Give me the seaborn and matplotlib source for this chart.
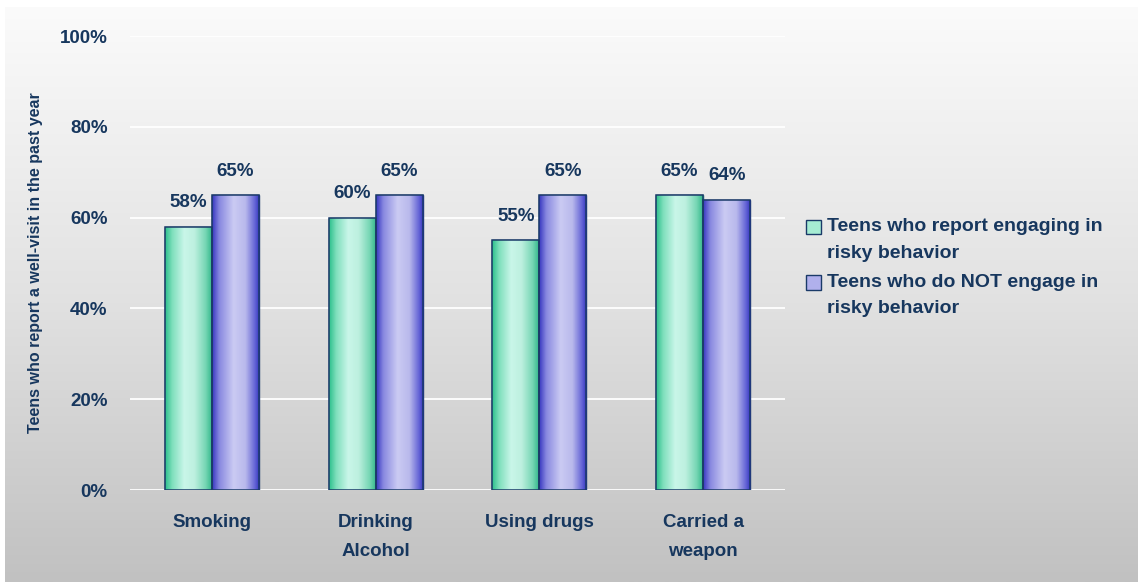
import numpy as np
import pandas as pd
import matplotlib
matplotlib.use("Agg")
import matplotlib.pyplot as plt
from matplotlib.colors import LinearSegmentedColormap
from matplotlib.patches import Rectangle
from matplotlib.legend_handler import HandlerPatch
import seaborn as sns

categories = ["Smoking", "Drinking\nAlcohol", "Using drugs", "Carried a\nweapon"]
risky = [58, 60, 55, 65]
not_risky = [65, 65, 65, 64]
series_names = ["Teens who report engaging in\nrisky behavior",
                "Teens who do NOT engage in\nrisky behavior"]
yticks = [0, 20, 40, 60, 80, 100]
ytick_labels = ["0%", "20%", "40%", "60%", "80%", "100%"]
ylabel = "Teens who report a well-visit in the past year"

TXT = "#17375e"
sns.set_theme(style="white")
plt.rcParams["font.family"] = ["Liberation Sans", "DejaVu Sans"]
plt.rcParams["font.weight"] = "bold"

df = pd.DataFrame({
    "cat": categories * 2,
    "val": risky + not_risky,
    "series": [series_names[0]] * 4 + [series_names[1]] * 4,
})

fig = plt.figure(figsize=(11.38, 5.82), dpi=100)
# background gradient
bg = fig.add_axes([0.004, 0, 0.996, 0.988], zorder=-10)
grad = np.linspace(0, 1, 256).reshape(-1, 1)
bgcm = LinearSegmentedColormap.from_list("bg", ["#fbfbfb", "#e2e2e2", "#c1c1c1"])
bg.imshow(grad, aspect="auto", cmap=bgcm, extent=[0, 1, 0, 1], origin="upper")
bg.set_axis_off()

ax = fig.add_axes([0.1142, 0.158, 0.5756, 0.78])
ax.set_facecolor("none")

green_cm = LinearSegmentedColormap.from_list("g", [
    (0.0, "#2cc08c"), (0.15, "#7fdfbc"), (0.4, "#c9f6e9"),
    (0.62, "#bdf0df"), (0.85, "#76d6b4"), (1.0, "#2ab486")])
blue_cm = LinearSegmentedColormap.from_list("b", [
    (0.0, "#3636c0"), (0.15, "#8888e0"), (0.45, "#cbcbf3"),
    (0.7, "#b9b9ec"), (0.9, "#6464d6"), (1.0, "#3030bc")])

sns.barplot(data=df, x="cat", y="val", hue="series", order=categories,
            hue_order=series_names, palette=["#9be8cc", "#a8a8e8"],
            width=0.575, dodge=True, ax=ax, edgecolor="#1a3a68",
            linewidth=1.0, legend=False, zorder=3)

hgrad = np.linspace(0, 1, 128).reshape(1, -1)
for i, cont in enumerate(ax.containers):
    cm = green_cm if i == 0 else blue_cm
    for bar in cont:
        x0, y0 = bar.get_x(), bar.get_y()
        w, h = bar.get_width(), bar.get_height()
        im = ax.imshow(hgrad, cmap=cm, aspect="auto",
                       extent=[x0, x0 + w, y0, y0 + h], zorder=3.5,
                       interpolation="bilinear")
        im.set_clip_path(bar)
        outline = Rectangle((x0, y0), w, h, fill=False,
                            edgecolor="#1a3a68", linewidth=1.1, zorder=4)
        ax.add_patch(outline)
    ax.bar_label(cont, labels=[f"{int(v)}%" for v in cont.datavalues],
                 padding=11, color=TXT, fontsize=13.5, fontweight="bold")

ax.set_xlim(-0.5, 3.5)
ax.set_ylim(0, 100)
ax.set_yticks(yticks)
ax.set_yticklabels(ytick_labels, color=TXT, fontsize=13.5, fontweight="bold")
ax.set_xticks(range(4))
ax.set_xticklabels(categories, color=TXT, fontsize=13.5, fontweight="bold",
                   linespacing=1.95, va="top")
ax.tick_params(axis="y", pad=16, length=0)
ax.tick_params(axis="x", pad=17, length=0)
for y in yticks:
    ax.axhline(y, color="white", lw=1.3, zorder=1)
for s in ax.spines.values():
    s.set_visible(False)
ax.set_xlabel("")
ax.set_ylabel(ylabel, color=TXT, fontsize=11.5, fontweight="bold")
ax.yaxis.set_label_coords(-0.133, 0.5)


def top_patch(legend, orig_handle, xdescent, ydescent, width, height, fontsize):
    return Rectangle((-xdescent, -ydescent + 0.65 * fontsize), width, height)


handles = [Rectangle((0, 0), 1, 1, facecolor="#a6ecd3", edgecolor="#1a3a68", lw=1),
           Rectangle((0, 0), 1, 1, facecolor="#b0b0ec", edgecolor="#1a3a68", lw=1)]
leg = fig.legend(handles, series_names, loc="center left",
                 bbox_to_anchor=(0.693, 0.54), frameon=False,
                 prop={"size": 14, "weight": "bold"},
                 handlelength=0.75, handleheight=0.75, handletextpad=0.3,
                 labelspacing=0.6,
                 handler_map={Rectangle: HandlerPatch(patch_func=top_patch)})
for t in leg.get_texts():
    t.set_color(TXT)
    t.set_linespacing(1.75)

fig.savefig("out.png", dpi=100)
